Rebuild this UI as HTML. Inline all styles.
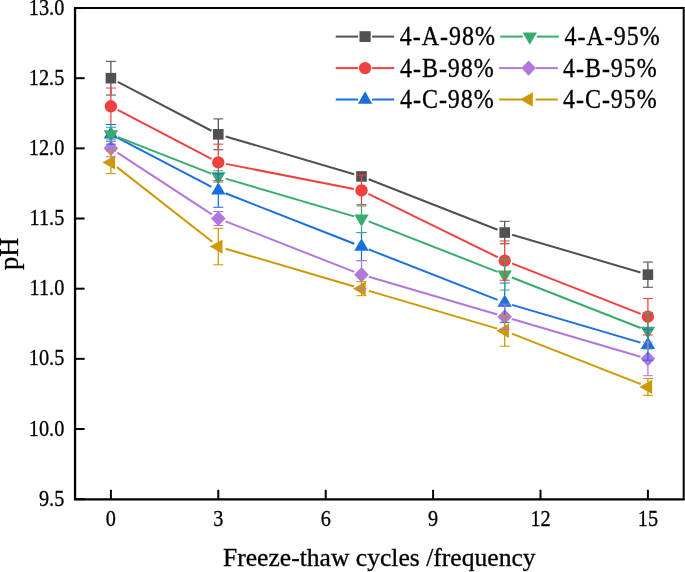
<!DOCTYPE html>
<html><head><meta charset="utf-8"><style>
html,body{margin:0;padding:0;background:#fff;overflow:hidden;width:685px;height:572px;}
svg{display:block;will-change:transform;}
text{font-family:"Liberation Serif",serif;fill:#000;stroke:#000;stroke-width:0.3px;}
</style></head><body>
<svg width="685" height="572" viewBox="0 0 685 572">
<rect width="685" height="572" fill="#fff"/>
<g>
<text transform="translate(64.30,505.76) scale(0.95,1.04)" style="font-size:21.33px" text-anchor="end">9.5</text>
<text transform="translate(64.30,435.60) scale(0.95,1.04)" style="font-size:21.33px" text-anchor="end">10.0</text>
<text transform="translate(64.30,365.44) scale(0.95,1.04)" style="font-size:21.33px" text-anchor="end">10.5</text>
<text transform="translate(64.30,295.28) scale(0.95,1.04)" style="font-size:21.33px" text-anchor="end">11.0</text>
<text transform="translate(64.30,225.12) scale(0.95,1.04)" style="font-size:21.33px" text-anchor="end">11.5</text>
<text transform="translate(64.30,154.96) scale(0.95,1.04)" style="font-size:21.33px" text-anchor="end">12.0</text>
<text transform="translate(64.30,84.80) scale(0.95,1.04)" style="font-size:21.33px" text-anchor="end">12.5</text>
<text transform="translate(64.30,14.64) scale(0.95,1.04)" style="font-size:21.33px" text-anchor="end">13.0</text>
<text transform="translate(110.90,525.50) scale(0.95,1.04)" style="font-size:21.33px" text-anchor="middle">0</text>
<text transform="translate(218.30,525.50) scale(0.95,1.04)" style="font-size:21.33px" text-anchor="middle">3</text>
<text transform="translate(325.70,525.50) scale(0.95,1.04)" style="font-size:21.33px" text-anchor="middle">6</text>
<text transform="translate(433.10,525.50) scale(0.95,1.04)" style="font-size:21.33px" text-anchor="middle">9</text>
<text transform="translate(540.50,525.50) scale(0.95,1.04)" style="font-size:21.33px" text-anchor="middle">12</text>
<text transform="translate(647.90,525.50) scale(0.95,1.04)" style="font-size:21.33px" text-anchor="middle">15</text>
<text transform="translate(17.65,253.80) rotate(-90) scale(1,1.02)" style="font-size:26.5px" text-anchor="middle">pH</text>
<text transform="translate(379.30,565.80) scale(1,0.99)" style="font-size:25.6px" text-anchor="middle">Freeze-thaw cycles /frequency</text>
</g>
<g>
<line x1="117.72" y1="81.77" x2="211.48" y2="130.76" stroke="#515151" stroke-width="2.0"/>
<line x1="225.69" y1="136.50" x2="354.11" y2="174.25" stroke="#515151" stroke-width="2.0"/>
<line x1="368.67" y1="179.23" x2="497.53" y2="229.74" stroke="#515151" stroke-width="2.0"/>
<line x1="512.09" y1="234.72" x2="640.51" y2="272.48" stroke="#515151" stroke-width="2.0"/>
<rect x="105.60" y="72.90" width="10.6" height="10.6" fill="#515151"/>
<rect x="213.00" y="129.03" width="10.6" height="10.6" fill="#515151"/>
<rect x="356.20" y="171.12" width="10.6" height="10.6" fill="#515151"/>
<rect x="499.40" y="227.25" width="10.6" height="10.6" fill="#515151"/>
<rect x="642.60" y="269.35" width="10.6" height="10.6" fill="#515151"/>
<line x1="117.72" y1="109.83" x2="211.48" y2="158.83" stroke="#F14040" stroke-width="2.0"/>
<line x1="225.86" y1="163.87" x2="353.94" y2="188.98" stroke="#F14040" stroke-width="2.0"/>
<line x1="368.41" y1="193.84" x2="497.79" y2="257.23" stroke="#F14040" stroke-width="2.0"/>
<line x1="511.87" y1="263.43" x2="640.73" y2="313.93" stroke="#F14040" stroke-width="2.0"/>
<circle cx="110.90" cy="106.26" r="6.2" fill="#F14040"/>
<circle cx="218.30" cy="162.39" r="6.2" fill="#F14040"/>
<circle cx="361.50" cy="190.46" r="6.2" fill="#F14040"/>
<circle cx="504.70" cy="260.62" r="6.2" fill="#F14040"/>
<circle cx="647.90" cy="316.74" r="6.2" fill="#F14040"/>
<line x1="117.72" y1="137.89" x2="211.48" y2="186.89" stroke="#1A6FDF" stroke-width="2.0"/>
<line x1="225.47" y1="193.27" x2="354.33" y2="243.77" stroke="#1A6FDF" stroke-width="2.0"/>
<line x1="368.67" y1="249.39" x2="497.53" y2="299.90" stroke="#1A6FDF" stroke-width="2.0"/>
<line x1="512.09" y1="304.88" x2="640.51" y2="342.64" stroke="#1A6FDF" stroke-width="2.0"/>
<polygon points="103.70,138.46 118.10,138.46 110.90,126.06" fill="#1A6FDF"/>
<polygon points="211.10,194.59 225.50,194.59 218.30,182.19" fill="#1A6FDF"/>
<polygon points="354.30,250.72 368.70,250.72 361.50,238.32" fill="#1A6FDF"/>
<polygon points="497.50,306.85 511.90,306.85 504.70,294.45" fill="#1A6FDF"/>
<polygon points="640.70,348.94 655.10,348.94 647.90,336.54" fill="#1A6FDF"/>
<line x1="118.07" y1="137.14" x2="211.13" y2="173.61" stroke="#37AD6B" stroke-width="2.0"/>
<line x1="225.69" y1="178.60" x2="354.11" y2="216.35" stroke="#37AD6B" stroke-width="2.0"/>
<line x1="368.67" y1="221.33" x2="497.53" y2="271.84" stroke="#37AD6B" stroke-width="2.0"/>
<line x1="511.87" y1="277.46" x2="640.73" y2="327.97" stroke="#37AD6B" stroke-width="2.0"/>
<polygon points="103.70,130.19 118.10,130.19 110.90,142.59" fill="#37AD6B"/>
<polygon points="211.10,172.29 225.50,172.29 218.30,184.69" fill="#37AD6B"/>
<polygon points="354.30,214.39 368.70,214.39 361.50,226.79" fill="#37AD6B"/>
<polygon points="497.50,270.51 511.90,270.51 504.70,282.91" fill="#37AD6B"/>
<polygon points="640.70,326.64 655.10,326.64 647.90,339.04" fill="#37AD6B"/>
<line x1="117.35" y1="152.57" x2="211.85" y2="214.31" stroke="#B177DE" stroke-width="2.0"/>
<line x1="225.47" y1="221.33" x2="354.33" y2="271.84" stroke="#B177DE" stroke-width="2.0"/>
<line x1="368.89" y1="276.82" x2="497.31" y2="314.57" stroke="#B177DE" stroke-width="2.0"/>
<line x1="512.09" y1="318.92" x2="640.51" y2="356.67" stroke="#B177DE" stroke-width="2.0"/>
<polygon points="103.60,148.36 110.90,140.76 118.20,148.36 110.90,155.96" fill="#B177DE"/>
<polygon points="211.00,218.52 218.30,210.92 225.60,218.52 218.30,226.12" fill="#B177DE"/>
<polygon points="354.20,274.65 361.50,267.05 368.80,274.65 361.50,282.25" fill="#B177DE"/>
<polygon points="497.40,316.74 504.70,309.14 512.00,316.74 504.70,324.34" fill="#B177DE"/>
<polygon points="640.60,358.84 647.90,351.24 655.20,358.84 647.90,366.44" fill="#B177DE"/>
<line x1="116.96" y1="167.14" x2="212.24" y2="241.83" stroke="#CC9900" stroke-width="2.0"/>
<line x1="225.69" y1="248.76" x2="354.11" y2="286.51" stroke="#CC9900" stroke-width="2.0"/>
<line x1="368.89" y1="290.85" x2="497.31" y2="328.60" stroke="#CC9900" stroke-width="2.0"/>
<line x1="511.87" y1="333.59" x2="640.73" y2="384.09" stroke="#CC9900" stroke-width="2.0"/>
<polygon points="115.13,155.19 115.13,169.59 102.43,162.39" fill="#CC9900"/>
<polygon points="222.53,239.38 222.53,253.78 209.83,246.58" fill="#CC9900"/>
<polygon points="365.73,281.48 365.73,295.88 353.03,288.68" fill="#CC9900"/>
<polygon points="508.93,323.58 508.93,337.98 496.23,330.78" fill="#CC9900"/>
<polygon points="652.13,379.70 652.13,394.10 639.43,386.90" fill="#CC9900"/>
<line x1="110.90" y1="61.36" x2="110.90" y2="73.40" stroke="#515151" stroke-width="1.25" opacity="1.0"/>
<line x1="110.90" y1="83.00" x2="110.90" y2="95.04" stroke="#515151" stroke-width="1.25" opacity="1.0"/>
<line x1="105.90" y1="61.36" x2="115.90" y2="61.36" stroke="#515151" stroke-width="1.05"/>
<line x1="105.90" y1="95.04" x2="115.90" y2="95.04" stroke="#515151" stroke-width="1.05"/>
<line x1="218.30" y1="118.89" x2="218.30" y2="129.53" stroke="#515151" stroke-width="1.25" opacity="1.0"/>
<line x1="218.30" y1="139.13" x2="218.30" y2="149.76" stroke="#515151" stroke-width="1.25" opacity="1.0"/>
<line x1="213.30" y1="118.89" x2="223.30" y2="118.89" stroke="#515151" stroke-width="1.05"/>
<line x1="213.30" y1="149.76" x2="223.30" y2="149.76" stroke="#515151" stroke-width="1.05"/>
<line x1="356.50" y1="173.62" x2="366.50" y2="173.62" stroke="#515151" stroke-width="1.05"/>
<line x1="356.50" y1="179.23" x2="366.50" y2="179.23" stroke="#515151" stroke-width="1.05"/>
<line x1="504.70" y1="221.33" x2="504.70" y2="227.75" stroke="#515151" stroke-width="1.25" opacity="1.0"/>
<line x1="504.70" y1="237.35" x2="504.70" y2="243.78" stroke="#515151" stroke-width="1.25" opacity="1.0"/>
<line x1="499.70" y1="221.33" x2="509.70" y2="221.33" stroke="#515151" stroke-width="1.05"/>
<line x1="499.70" y1="243.78" x2="509.70" y2="243.78" stroke="#515151" stroke-width="1.05"/>
<line x1="647.90" y1="262.02" x2="647.90" y2="269.85" stroke="#515151" stroke-width="1.25" opacity="1.0"/>
<line x1="647.90" y1="279.45" x2="647.90" y2="287.28" stroke="#515151" stroke-width="1.25" opacity="1.0"/>
<line x1="642.90" y1="262.02" x2="652.90" y2="262.02" stroke="#515151" stroke-width="1.05"/>
<line x1="642.90" y1="287.28" x2="652.90" y2="287.28" stroke="#515151" stroke-width="1.05"/>
<line x1="110.90" y1="88.02" x2="110.90" y2="100.56" stroke="#F14040" stroke-width="1.25" opacity="1.0"/>
<line x1="110.90" y1="111.96" x2="110.90" y2="124.51" stroke="#F14040" stroke-width="1.25" opacity="1.0"/>
<line x1="105.90" y1="88.02" x2="115.90" y2="88.02" stroke="#F14040" stroke-width="1.05"/>
<line x1="105.90" y1="124.51" x2="115.90" y2="124.51" stroke="#F14040" stroke-width="1.05"/>
<line x1="218.30" y1="144.15" x2="218.30" y2="156.69" stroke="#F14040" stroke-width="1.25" opacity="1.0"/>
<line x1="218.30" y1="168.09" x2="218.30" y2="180.63" stroke="#F14040" stroke-width="1.25" opacity="1.0"/>
<line x1="213.30" y1="144.15" x2="223.30" y2="144.15" stroke="#F14040" stroke-width="1.05"/>
<line x1="213.30" y1="180.63" x2="223.30" y2="180.63" stroke="#F14040" stroke-width="1.05"/>
<line x1="361.50" y1="175.02" x2="361.50" y2="184.76" stroke="#F14040" stroke-width="1.25" opacity="1.0"/>
<line x1="361.50" y1="196.16" x2="361.50" y2="205.89" stroke="#F14040" stroke-width="1.25" opacity="1.0"/>
<line x1="356.50" y1="175.02" x2="366.50" y2="175.02" stroke="#F14040" stroke-width="1.05"/>
<line x1="356.50" y1="205.89" x2="366.50" y2="205.89" stroke="#F14040" stroke-width="1.05"/>
<line x1="504.70" y1="240.97" x2="504.70" y2="254.92" stroke="#F14040" stroke-width="1.25" opacity="1.0"/>
<line x1="504.70" y1="266.32" x2="504.70" y2="280.26" stroke="#F14040" stroke-width="1.25" opacity="1.0"/>
<line x1="499.70" y1="240.97" x2="509.70" y2="240.97" stroke="#F14040" stroke-width="1.05"/>
<line x1="499.70" y1="280.26" x2="509.70" y2="280.26" stroke="#F14040" stroke-width="1.05"/>
<line x1="647.90" y1="298.50" x2="647.90" y2="311.04" stroke="#F14040" stroke-width="1.25" opacity="1.0"/>
<line x1="647.90" y1="322.44" x2="647.90" y2="334.99" stroke="#F14040" stroke-width="1.25" opacity="1.0"/>
<line x1="642.90" y1="298.50" x2="652.90" y2="298.50" stroke="#F14040" stroke-width="1.05"/>
<line x1="642.90" y1="334.99" x2="652.90" y2="334.99" stroke="#F14040" stroke-width="1.05"/>
<line x1="110.90" y1="124.51" x2="110.90" y2="126.56" stroke="#1A6FDF" stroke-width="1.25" opacity="1.0"/>
<line x1="110.90" y1="137.96" x2="110.90" y2="144.15" stroke="#1A6FDF" stroke-width="1.25" opacity="1.0"/>
<line x1="105.90" y1="124.51" x2="115.90" y2="124.51" stroke="#1A6FDF" stroke-width="1.05"/>
<line x1="105.90" y1="144.15" x2="115.90" y2="144.15" stroke="#1A6FDF" stroke-width="1.05"/>
<line x1="218.30" y1="173.62" x2="218.30" y2="182.69" stroke="#1A6FDF" stroke-width="1.25" opacity="1.0"/>
<line x1="218.30" y1="194.09" x2="218.30" y2="207.29" stroke="#1A6FDF" stroke-width="1.25" opacity="1.0"/>
<line x1="213.30" y1="173.62" x2="223.30" y2="173.62" stroke="#1A6FDF" stroke-width="1.05"/>
<line x1="213.30" y1="207.29" x2="223.30" y2="207.29" stroke="#1A6FDF" stroke-width="1.05"/>
<line x1="361.50" y1="232.55" x2="361.50" y2="238.81" stroke="#1A6FDF" stroke-width="1.25" opacity="1.0"/>
<line x1="361.50" y1="250.21" x2="361.50" y2="260.62" stroke="#1A6FDF" stroke-width="1.25" opacity="1.0"/>
<line x1="356.50" y1="232.55" x2="366.50" y2="232.55" stroke="#1A6FDF" stroke-width="1.05"/>
<line x1="356.50" y1="260.62" x2="366.50" y2="260.62" stroke="#1A6FDF" stroke-width="1.05"/>
<line x1="504.70" y1="283.07" x2="504.70" y2="294.94" stroke="#1A6FDF" stroke-width="1.25" opacity="1.0"/>
<line x1="504.70" y1="306.34" x2="504.70" y2="322.36" stroke="#1A6FDF" stroke-width="1.25" opacity="1.0"/>
<line x1="499.70" y1="283.07" x2="509.70" y2="283.07" stroke="#1A6FDF" stroke-width="1.05"/>
<line x1="499.70" y1="322.36" x2="509.70" y2="322.36" stroke="#1A6FDF" stroke-width="1.05"/>
<line x1="647.90" y1="329.37" x2="647.90" y2="337.04" stroke="#1A6FDF" stroke-width="1.25" opacity="1.0"/>
<line x1="647.90" y1="348.44" x2="647.90" y2="360.24" stroke="#1A6FDF" stroke-width="1.25" opacity="1.0"/>
<line x1="642.90" y1="329.37" x2="652.90" y2="329.37" stroke="#1A6FDF" stroke-width="1.05"/>
<line x1="642.90" y1="360.24" x2="652.90" y2="360.24" stroke="#1A6FDF" stroke-width="1.05"/>
<line x1="110.90" y1="127.31" x2="110.90" y2="130.70" stroke="#37AD6B" stroke-width="1.25" opacity="1.0"/>
<line x1="105.90" y1="127.31" x2="115.90" y2="127.31" stroke="#37AD6B" stroke-width="1.05"/>
<line x1="105.90" y1="141.34" x2="115.90" y2="141.34" stroke="#37AD6B" stroke-width="1.05"/>
<line x1="218.30" y1="170.81" x2="218.30" y2="172.79" stroke="#37AD6B" stroke-width="1.25" opacity="1.0"/>
<line x1="213.30" y1="170.81" x2="223.30" y2="170.81" stroke="#37AD6B" stroke-width="1.05"/>
<line x1="213.30" y1="182.04" x2="223.30" y2="182.04" stroke="#37AD6B" stroke-width="1.05"/>
<line x1="361.50" y1="204.49" x2="361.50" y2="214.89" stroke="#37AD6B" stroke-width="1.25" opacity="1.0"/>
<line x1="361.50" y1="226.29" x2="361.50" y2="232.55" stroke="#37AD6B" stroke-width="1.25" opacity="1.0"/>
<line x1="356.50" y1="204.49" x2="366.50" y2="204.49" stroke="#37AD6B" stroke-width="1.05"/>
<line x1="356.50" y1="232.55" x2="366.50" y2="232.55" stroke="#37AD6B" stroke-width="1.05"/>
<line x1="504.70" y1="259.21" x2="504.70" y2="271.02" stroke="#37AD6B" stroke-width="1.25" opacity="1.0"/>
<line x1="504.70" y1="282.42" x2="504.70" y2="290.08" stroke="#37AD6B" stroke-width="1.25" opacity="1.0"/>
<line x1="499.70" y1="259.21" x2="509.70" y2="259.21" stroke="#37AD6B" stroke-width="1.05"/>
<line x1="499.70" y1="290.08" x2="509.70" y2="290.08" stroke="#37AD6B" stroke-width="1.05"/>
<line x1="647.90" y1="312.53" x2="647.90" y2="327.15" stroke="#37AD6B" stroke-width="1.25" opacity="1.0"/>
<line x1="647.90" y1="338.55" x2="647.90" y2="349.02" stroke="#37AD6B" stroke-width="1.25" opacity="1.0"/>
<line x1="642.90" y1="312.53" x2="652.90" y2="312.53" stroke="#37AD6B" stroke-width="1.05"/>
<line x1="642.90" y1="349.02" x2="652.90" y2="349.02" stroke="#37AD6B" stroke-width="1.05"/>
<line x1="110.90" y1="139.94" x2="110.90" y2="141.26" stroke="#B177DE" stroke-width="1.25" opacity="1.0"/>
<line x1="110.90" y1="155.46" x2="110.90" y2="156.78" stroke="#B177DE" stroke-width="1.25" opacity="1.0"/>
<line x1="105.90" y1="139.94" x2="115.90" y2="139.94" stroke="#B177DE" stroke-width="1.05"/>
<line x1="105.90" y1="156.78" x2="115.90" y2="156.78" stroke="#B177DE" stroke-width="1.05"/>
<line x1="213.30" y1="211.50" x2="223.30" y2="211.50" stroke="#B177DE" stroke-width="1.05"/>
<line x1="213.30" y1="225.54" x2="223.30" y2="225.54" stroke="#B177DE" stroke-width="1.05"/>
<line x1="361.50" y1="260.62" x2="361.50" y2="267.55" stroke="#B177DE" stroke-width="1.25" opacity="1.0"/>
<line x1="361.50" y1="281.75" x2="361.50" y2="288.68" stroke="#B177DE" stroke-width="1.25" opacity="1.0"/>
<line x1="356.50" y1="260.62" x2="366.50" y2="260.62" stroke="#B177DE" stroke-width="1.05"/>
<line x1="356.50" y1="288.68" x2="366.50" y2="288.68" stroke="#B177DE" stroke-width="1.05"/>
<line x1="504.70" y1="304.12" x2="504.70" y2="309.64" stroke="#B177DE" stroke-width="1.25" opacity="1.0"/>
<line x1="504.70" y1="323.84" x2="504.70" y2="329.37" stroke="#B177DE" stroke-width="1.25" opacity="1.0"/>
<line x1="499.70" y1="304.12" x2="509.70" y2="304.12" stroke="#B177DE" stroke-width="1.05"/>
<line x1="499.70" y1="329.37" x2="509.70" y2="329.37" stroke="#B177DE" stroke-width="1.05"/>
<line x1="647.90" y1="342.00" x2="647.90" y2="351.74" stroke="#B177DE" stroke-width="1.25" opacity="1.0"/>
<line x1="647.90" y1="365.94" x2="647.90" y2="375.68" stroke="#B177DE" stroke-width="1.25" opacity="1.0"/>
<line x1="642.90" y1="342.00" x2="652.90" y2="342.00" stroke="#B177DE" stroke-width="1.05"/>
<line x1="642.90" y1="375.68" x2="652.90" y2="375.68" stroke="#B177DE" stroke-width="1.05"/>
<line x1="110.90" y1="151.17" x2="110.90" y2="158.09" stroke="#CC9900" stroke-width="1.25" opacity="1.0"/>
<line x1="110.90" y1="166.69" x2="110.90" y2="173.62" stroke="#CC9900" stroke-width="1.25" opacity="1.0"/>
<line x1="105.90" y1="151.17" x2="115.90" y2="151.17" stroke="#CC9900" stroke-width="1.05"/>
<line x1="105.90" y1="173.62" x2="115.90" y2="173.62" stroke="#CC9900" stroke-width="1.05"/>
<line x1="218.30" y1="228.34" x2="218.30" y2="242.28" stroke="#CC9900" stroke-width="1.25" opacity="1.0"/>
<line x1="218.30" y1="250.88" x2="218.30" y2="264.83" stroke="#CC9900" stroke-width="1.25" opacity="1.0"/>
<line x1="213.30" y1="228.34" x2="223.30" y2="228.34" stroke="#CC9900" stroke-width="1.05"/>
<line x1="213.30" y1="264.83" x2="223.30" y2="264.83" stroke="#CC9900" stroke-width="1.05"/>
<line x1="361.50" y1="281.66" x2="361.50" y2="284.38" stroke="#CC9900" stroke-width="1.25" opacity="1.0"/>
<line x1="361.50" y1="292.98" x2="361.50" y2="295.70" stroke="#CC9900" stroke-width="1.25" opacity="1.0"/>
<line x1="356.50" y1="281.66" x2="366.50" y2="281.66" stroke="#CC9900" stroke-width="1.05"/>
<line x1="356.50" y1="295.70" x2="366.50" y2="295.70" stroke="#CC9900" stroke-width="1.05"/>
<line x1="504.70" y1="315.34" x2="504.70" y2="326.48" stroke="#CC9900" stroke-width="1.25" opacity="1.0"/>
<line x1="504.70" y1="335.08" x2="504.70" y2="346.21" stroke="#CC9900" stroke-width="1.25" opacity="1.0"/>
<line x1="499.70" y1="315.34" x2="509.70" y2="315.34" stroke="#CC9900" stroke-width="1.05"/>
<line x1="499.70" y1="346.21" x2="509.70" y2="346.21" stroke="#CC9900" stroke-width="1.05"/>
<line x1="647.90" y1="378.48" x2="647.90" y2="382.60" stroke="#CC9900" stroke-width="1.25" opacity="1.0"/>
<line x1="647.90" y1="391.20" x2="647.90" y2="395.32" stroke="#CC9900" stroke-width="1.25" opacity="1.0"/>
<line x1="642.90" y1="378.48" x2="652.90" y2="378.48" stroke="#CC9900" stroke-width="1.05"/>
<line x1="642.90" y1="395.32" x2="652.90" y2="395.32" stroke="#CC9900" stroke-width="1.05"/>
</g>
<g>
<polyline points="75.05,8.10 683.70,8.10 683.70,499.45" fill="none" stroke="#000" stroke-width="2"/>
<polyline points="75.05,7.10 75.05,499.45 684.70,499.45" fill="none" stroke="#000" stroke-width="2.3"/>
<line x1="75.05" y1="499.16" x2="84.6" y2="499.16" stroke="#000" stroke-width="2"/>
<line x1="75.05" y1="429.00" x2="84.6" y2="429.00" stroke="#000" stroke-width="2"/>
<line x1="75.05" y1="358.84" x2="84.6" y2="358.84" stroke="#000" stroke-width="2"/>
<line x1="75.05" y1="288.68" x2="84.6" y2="288.68" stroke="#000" stroke-width="2"/>
<line x1="75.05" y1="218.52" x2="84.6" y2="218.52" stroke="#000" stroke-width="2"/>
<line x1="75.05" y1="148.36" x2="84.6" y2="148.36" stroke="#000" stroke-width="2"/>
<line x1="75.05" y1="78.20" x2="84.6" y2="78.20" stroke="#000" stroke-width="2"/>
<line x1="75.05" y1="8.04" x2="84.6" y2="8.04" stroke="#000" stroke-width="2"/>
<line x1="110.90" y1="499.45" x2="110.90" y2="489.8" stroke="#000" stroke-width="2"/>
<line x1="218.30" y1="499.45" x2="218.30" y2="489.8" stroke="#000" stroke-width="2"/>
<line x1="325.70" y1="499.45" x2="325.70" y2="489.8" stroke="#000" stroke-width="2"/>
<line x1="433.10" y1="499.45" x2="433.10" y2="489.8" stroke="#000" stroke-width="2"/>
<line x1="540.50" y1="499.45" x2="540.50" y2="489.8" stroke="#000" stroke-width="2"/>
<line x1="647.90" y1="499.45" x2="647.90" y2="489.8" stroke="#000" stroke-width="2"/>
</g>
<g>
<line x1="335.7" y1="36.6" x2="358.10" y2="36.6" stroke="#515151" stroke-width="2.0"/>
<line x1="372.10" y1="36.6" x2="394.2" y2="36.6" stroke="#515151" stroke-width="2.0"/>
<rect x="359.50" y="31.20" width="11.2" height="10.8" fill="#515151"/>
<text transform="translate(399.70,45.40) scale(1,1.11)" style="font-size:24px;letter-spacing:1.0px">4-A-98%</text>
<line x1="335.7" y1="68.1" x2="358.10" y2="68.1" stroke="#F14040" stroke-width="2.0"/>
<line x1="372.10" y1="68.1" x2="394.2" y2="68.1" stroke="#F14040" stroke-width="2.0"/>
<circle cx="365.10" cy="68.10" r="6.2" fill="#F14040"/>
<text transform="translate(399.90,76.90) scale(1,1.11)" style="font-size:24px;letter-spacing:1.0px">4-B-98%</text>
<line x1="335.7" y1="99.5" x2="358.10" y2="99.5" stroke="#1A6FDF" stroke-width="2.0"/>
<line x1="372.10" y1="99.5" x2="394.2" y2="99.5" stroke="#1A6FDF" stroke-width="2.0"/>
<polygon points="357.90,103.63 372.30,103.63 365.10,91.23" fill="#1A6FDF"/>
<text transform="translate(399.90,108.30) scale(1,1.11)" style="font-size:24px;letter-spacing:1.0px">4-C-98%</text>
<line x1="500.2" y1="36.6" x2="522.80" y2="36.6" stroke="#37AD6B" stroke-width="2.0"/>
<line x1="536.80" y1="36.6" x2="558.8" y2="36.6" stroke="#37AD6B" stroke-width="2.0"/>
<polygon points="522.60,32.47 537.00,32.47 529.80,44.87" fill="#37AD6B"/>
<text transform="translate(564.40,45.40) scale(1,1.11)" style="font-size:24px;letter-spacing:1.0px">4-A-95%</text>
<line x1="499.2" y1="68.1" x2="521.60" y2="68.1" stroke="#B177DE" stroke-width="2.0"/>
<line x1="535.60" y1="68.1" x2="557.8" y2="68.1" stroke="#B177DE" stroke-width="2.0"/>
<polygon points="521.30,68.10 528.60,60.50 535.90,68.10 528.60,75.70" fill="#B177DE"/>
<text transform="translate(562.90,76.90) scale(1,1.11)" style="font-size:24px;letter-spacing:1.0px">4-B-95%</text>
<line x1="499.2" y1="99.5" x2="521.60" y2="99.5" stroke="#CC9900" stroke-width="2.0"/>
<line x1="535.60" y1="99.5" x2="557.8" y2="99.5" stroke="#CC9900" stroke-width="2.0"/>
<polygon points="532.83,92.30 532.83,106.70 520.13,99.50" fill="#CC9900"/>
<text transform="translate(562.90,108.30) scale(1,1.11)" style="font-size:24px;letter-spacing:1.0px">4-C-95%</text>
</g>
</svg>
</body></html>
